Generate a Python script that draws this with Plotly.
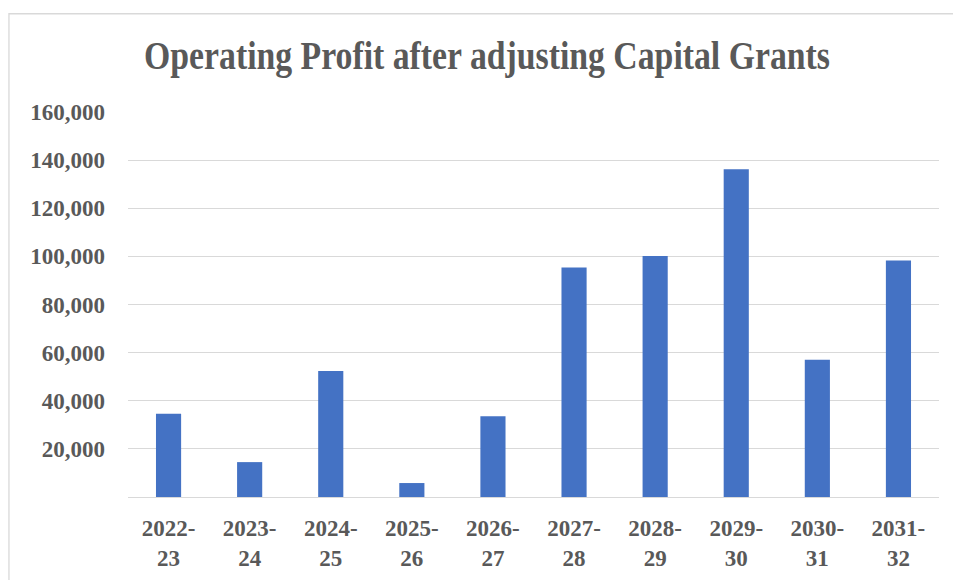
import plotly.graph_objects as go

categories = ["2022-<br>23", "2023-<br>24", "2024-<br>25", "2025-<br>26", "2026-<br>27",
              "2027-<br>28", "2028-<br>29", "2029-<br>30", "2030-<br>31", "2031-<br>32"]
values = [34600, 14500, 52400, 5800, 33600, 95400, 100200, 136200, 57000, 98300]
y_ticks = [0, 20000, 40000, 60000, 80000, 100000, 120000, 140000, 160000]
y_ticktext = ["", "20,000", "40,000", "60,000", "80,000", "100,000", "120,000", "140,000", "160,000"]
title_text = "Operating Profit after adjusting Capital Grants"

FONT = "Liberation Serif"
GRAY = "#595959"
GRID = "#D9D9D9"

W, H = 953, 580
ml, mr, mt, mb = 127.5, 13.5, 111.7, 82.7
pw, ph = W - ml - mr, H - mt - mb

fig = go.Figure()
fig.add_trace(go.Bar(x=categories, y=values, marker=dict(color="#4472C4", line=dict(width=0)),
                     hoverinfo="skip"))

def px_to_paper_x(px):
    return (px - ml) / pw

def py_to_paper_y(py):
    return (H - mb - py) / ph

fig.add_shape(type="rect", xref="paper", yref="paper",
              x0=px_to_paper_x(8.3), x1=px_to_paper_x(1000),
              y0=py_to_paper_y(640), y1=py_to_paper_y(13.3),
              line=dict(color=GRID, width=1.3), fillcolor="rgba(0,0,0,0)", layer="below")

fig.update_layout(
    width=W, height=H,
    margin=dict(l=ml, r=mr, t=mt, b=mb, pad=0, autoexpand=False),
    paper_bgcolor="white", plot_bgcolor="white",
    showlegend=False,
    bargap=0.69,
    title=dict(text="<b>" + title_text + "</b>", x=487 / W, xanchor="center",
               y=1 - 55 / H, yanchor="middle", yref="container", xref="container",
               font=dict(family=FONT, size=40, color=GRAY), automargin=False),
    xaxis=dict(showgrid=False, showline=True, linecolor=GRID, linewidth=1.3,
               ticks="", tickfont=dict(family=FONT, size=23, color=GRAY, weight="bold"),
               ticklabelstandoff=10, tickangle=0, automargin=False),
    yaxis=dict(range=[0, 160000], tickvals=y_ticks, ticktext=y_ticktext,
               showgrid=True, gridcolor=GRID, gridwidth=1.3, zeroline=False,
               showline=False, ticks="", automargin=False,
               tickfont=dict(family=FONT, size=23, color=GRAY, weight="bold"),
               ticklabelstandoff=22),
)

post_js = """
document.body.style.margin = '0';
document.body.style.overflow = 'hidden';
var gd = document.getElementById('{plot_id}');
function squeeze(){
  var t = gd.querySelector('.gtitle');
  if (t) { t.style.transformBox='fill-box'; t.style.transformOrigin='center'; t.style.transform='scaleX(0.844)'; }
}
squeeze();
gd.on && gd.on('plotly_afterplot', squeeze);
"""

fig.write_html("out.html", post_script=post_js, config={"displayModeBar": False})
